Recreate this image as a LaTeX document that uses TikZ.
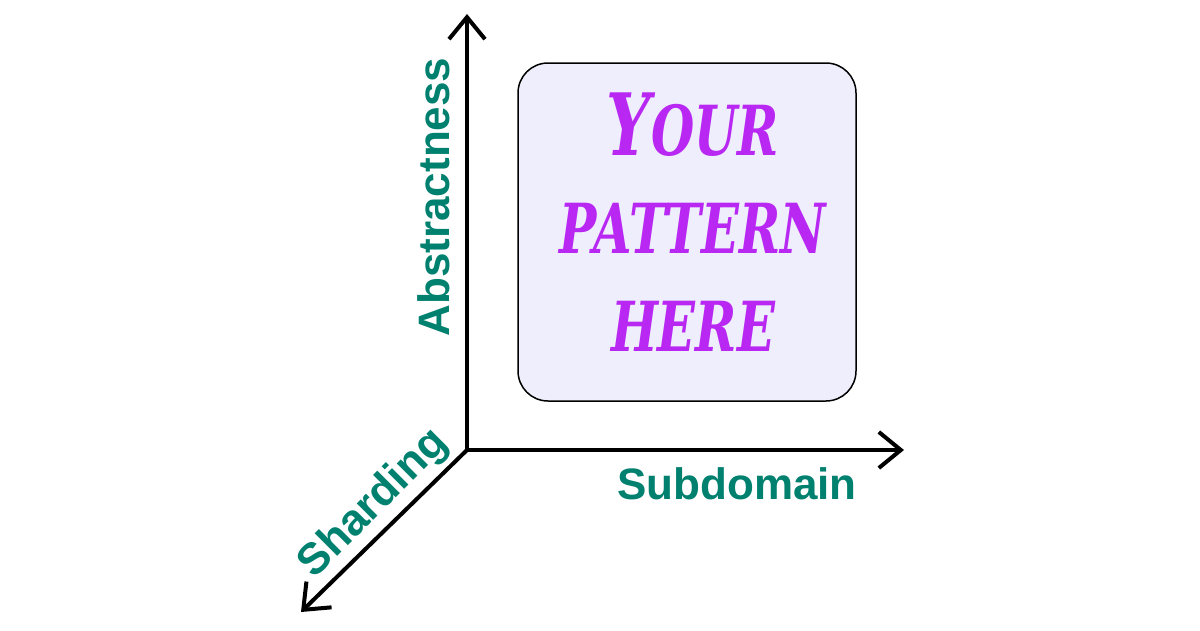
\documentclass[tikz,border=0pt]{standalone}
\usepackage{fontspec}
\setmainfont{Liberation Sans}
\newfontfamily\patternfont[FakeStretch=0.72]{DejaVu Serif}
\usetikzlibrary{arrows.meta}
\definecolor{axislabel}{HTML}{00806E}
\definecolor{patternpurple}{HTML}{B828F2}
\definecolor{boxfill}{HTML}{EEEEFC}
\tikzset{
  axis/.style={line width=4pt, -{Straight Barb[length=22pt, width=36pt, line width=4pt]}},
  axislbl/.style={text=axislabel, font=\fontsize{44}{48}\selectfont\bfseries, inner sep=0pt},
}
\begin{document}
\begin{tikzpicture}[x=1pt, y=-1pt]
  \useasboundingbox (0,0) rectangle (1200,630);
  % origin and free ends of the three axes
  \coordinate (origin) at (467,450);
  \coordinate (up) at (467,14);
  \coordinate (right) at (904,450);
  \coordinate (down) at (301,612);
  % the three axes
  \draw[axis] (origin) -- (up);
  \draw[axis] (origin) -- (right);
  \draw[axis] (origin) -- (down);
  % axis labels
  \node[axislbl, rotate=90, anchor=base] (abstract) at (449,197) {Abstractness};
  \node[axislbl, anchor=base] (subdomain) at (737,499) {Subdomain};
  \node[axislbl, rotate=45, anchor=base] (sharding) at (382,512) {Sharding};
  % pattern box
  \node[draw=black, line width=1.5pt, fill=boxfill, rounded corners=30pt,
        minimum width=338pt, minimum height=338pt] (box) at (687,232) {};
  % pattern text
  \node[text=patternpurple, font=\patternfont\bfseries\itshape\fontsize{69}{98}\selectfont,
        align=center, inner sep=0pt] (pattern) at (693,222)
        {{\fontsize{86}{98}\selectfont Y}OUR\\PATTERN\\HERE};
\end{tikzpicture}
\end{document}
